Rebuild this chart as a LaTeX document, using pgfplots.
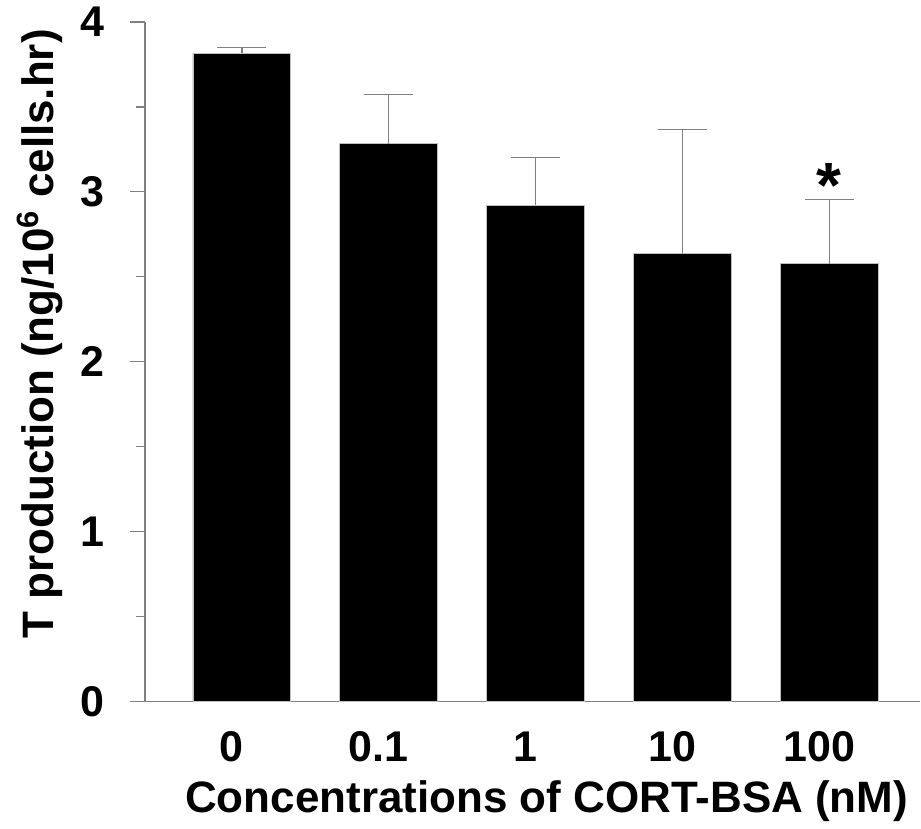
\documentclass[border=0pt]{standalone}
\usepackage{fontspec}
\setmainfont{Liberation Sans}
\usepackage{pgfplots}
\pgfplotsset{compat=1.18}

\begin{document}
\begin{tikzpicture}
\begin{axis}[
    scale only axis,
    width=388pt,
    height=340pt,
    clip=false,
    axis lines*=left,
    axis line style={gray, line width=0.6pt},
    xmin=-0.66, xmax=4.62,
    ymin=0, ymax=4,
    xtick={0,1,2,3,4},
    xticklabels={0,0.1,1,10,100},
    ytick={0,1,2,3,4},
    minor y tick num=1,
    tick align=outside,
    major tick length=7.5pt,
    minor tick length=4.5pt,
    x tick style={draw=none},
    y tick style={gray, line width=0.6pt},
    tick label style={font=\fontsize{21.5}{24}\selectfont\bfseries},
    /pgf/number format/assume math mode=true,
    xticklabel style={xshift=-5pt, yshift=-4pt},
    yticklabel style={xshift=-9.5pt},
    xlabel={Concentrations of CORT-BSA (nM)},
    ylabel={T production (ng/10$^{\mathbf{6}}$ cells.hr)},
    label style={font=\fontsize{22}{24}\selectfont\bfseries},
    xlabel style={at={(axis description cs:0.518,-0.106)}, anchor=north},
    ylabel style={at={(axis description cs:-0.0966,0.541)}, anchor=south},
]
\addplot[ybar, bar width=49pt, bar shift=0pt, fill=black, draw=gray!50,
    error bars/.cd, y dir=plus, y explicit, error mark=|,
    error bar style={gray, line width=0.6pt},
    error mark options={gray, mark size=12.25pt, line width=0.6pt}]
coordinates {
(0,3.816) +- (0,0.035)
(1,3.284) +- (0,0.288)
(2,2.922) +- (0,0.282)
(3,2.635) +- (0,0.731)
(4,2.578) +- (0,0.377)};
\node[font=\fontsize{32}{34}\selectfont\bfseries, anchor=base] at (axis cs:4,2.91) {*};
\path (axis description cs:-0.187,-0.187) rectangle (axis description cs:1,1.0324);
\end{axis}
\end{tikzpicture}
\end{document}
